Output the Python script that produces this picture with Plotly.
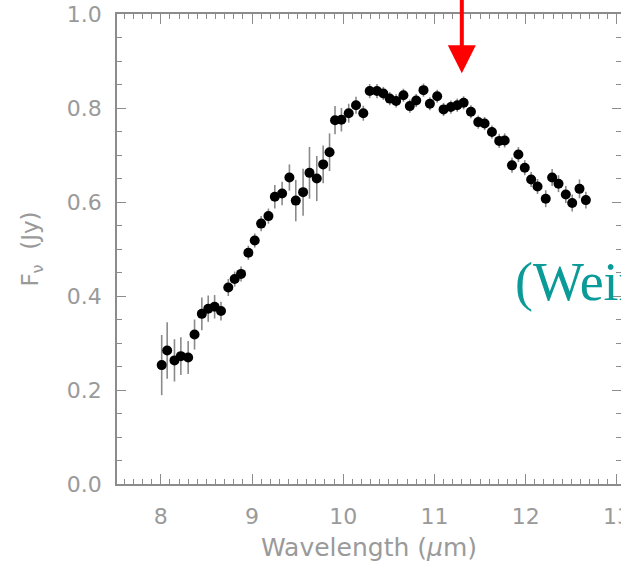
import plotly.graph_objects as go

# Mid-infrared spectrum: wavelength (micron), flux density (Jy), 1-sigma errors
wavelength = [
    8.01, 8.07, 8.15, 8.22, 8.30, 8.37, 8.45, 8.52, 8.59, 8.66,
    8.74, 8.81, 8.88, 8.96, 9.03, 9.10, 9.18, 9.25, 9.33, 9.41,
    9.48, 9.56, 9.63, 9.71, 9.78, 9.85, 9.91, 9.98, 10.06, 10.14,
    10.22, 10.29, 10.37, 10.44, 10.51, 10.58, 10.66, 10.73, 10.80, 10.88,
    10.95, 11.03, 11.10, 11.18, 11.25, 11.32, 11.40, 11.48, 11.55, 11.63,
    11.71, 11.77, 11.85, 11.92, 11.99, 12.06, 12.13, 12.22, 12.29, 12.36,
    12.44, 12.51, 12.59, 12.66,
]
flux = [
    0.253, 0.284, 0.263, 0.272, 0.269, 0.318, 0.362, 0.373, 0.377, 0.368,
    0.418, 0.436, 0.447, 0.492, 0.518, 0.554, 0.570, 0.611, 0.618, 0.652,
    0.603, 0.621, 0.662, 0.650, 0.680, 0.706, 0.774, 0.775, 0.789, 0.806,
    0.789, 0.836, 0.836, 0.831, 0.820, 0.815, 0.827, 0.804, 0.816, 0.838,
    0.809, 0.825, 0.797, 0.802, 0.806, 0.811, 0.792, 0.770, 0.767, 0.749,
    0.730, 0.731, 0.678, 0.701, 0.673, 0.648, 0.633, 0.607, 0.652, 0.639,
    0.616, 0.598, 0.628, 0.604,
]
flux_err = [
    0.064, 0.060, 0.045, 0.040, 0.035, 0.032, 0.035, 0.028, 0.025, 0.020,
    0.018, 0.016, 0.016, 0.015, 0.015, 0.016, 0.016, 0.025, 0.025, 0.028,
    0.044, 0.050, 0.055, 0.048, 0.040, 0.040, 0.030, 0.025, 0.020, 0.018,
    0.016, 0.015, 0.015, 0.014, 0.014, 0.014, 0.014, 0.014, 0.014, 0.014,
    0.014, 0.014, 0.014, 0.014, 0.014, 0.014, 0.014, 0.014, 0.014, 0.014,
    0.015, 0.015, 0.016, 0.016, 0.016, 0.016, 0.016, 0.018, 0.018, 0.018,
    0.018, 0.018, 0.020, 0.018,
]

x_ticks = [8, 9, 10, 11, 12, 13]
y_ticks = [0.0, 0.2, 0.4, 0.6, 0.8, 1.0]
y_tick_text = ["0.0", "0.2", "0.4", "0.6", "0.8", "1.0"]

# 11.3 micron feature marker
feature_wavelength = 11.3

AXIS_GREY = "#8c8c8c"
TEXT_GREY = "#9a9a9a"
FONT = "DejaVu Sans"

fig = go.Figure()
fig.add_trace(go.Scatter(
    x=wavelength, y=flux,
    mode="markers",
    marker=dict(color="black", size=10, line=dict(width=0)),
    error_y=dict(type="data", array=flux_err, visible=True,
                 color="#8a8a8a", thickness=1.6, width=0),
    showlegend=False,
    cliponaxis=False,
))

axis_common = dict(
    showline=True, linecolor=AXIS_GREY, linewidth=1.5,
    mirror="ticks", ticks="inside", tickcolor=AXIS_GREY,
    showgrid=False, zeroline=False, automargin=False,
    tickfont=dict(family=FONT, size=22, color=TEXT_GREY),
)

fig.update_xaxes(
    range=[7.52, 13.045],
    tickvals=x_ticks, ticklen=10, tickwidth=1.3,
    minor=dict(dtick=0.1, ticklen=5, tickcolor=AXIS_GREY, ticks="inside", tickwidth=1.2),
    ticklabelstandoff=12,
    ticklabeloverflow="allow",
    title=dict(text="Wavelength (<i>μ</i>m)", font=dict(family=FONT, size=25, color=TEXT_GREY),
               standoff=10),
    **axis_common,
)
fig.update_yaxes(
    range=[0, 1.0],
    tickvals=y_ticks, ticktext=y_tick_text, ticklen=9, tickwidth=1.3,
    minor=dict(dtick=0.05, ticklen=5, tickcolor=AXIS_GREY, ticks="inside", tickwidth=1.2),
    ticklabelstandoff=9,
    title=dict(text="F<sub>ν</sub>  (Jy)", font=dict(family=FONT, size=23, color=TEXT_GREY),
               standoff=22),
    **axis_common,
)

# Red arrow pointing down at the 11.3 micron feature
fig.add_annotation(
    x=feature_wavelength, y=0.874, xref="x", yref="y",
    ax=feature_wavelength, ay=1.04, axref="x", ayref="y",
    showarrow=True, arrowhead=2, arrowsize=1.4, arrowwidth=4,
    arrowcolor="#ff0000", text="",
)

# Reference citation (runs off the right edge)
fig.add_annotation(
    x=0.786, y=0.43, xref="paper", yref="paper",
    xanchor="left", yanchor="middle",
    text="(Weinberger et al.", showarrow=False,
    font=dict(family="Liberation Serif", size=54, color="#0a9a98"),
)

fig.update_layout(
    width=621, height=566,
    margin=dict(l=117, r=0, t=14, b=82),
    paper_bgcolor="white", plot_bgcolor="white",
)

fig.write_html("out.html")
